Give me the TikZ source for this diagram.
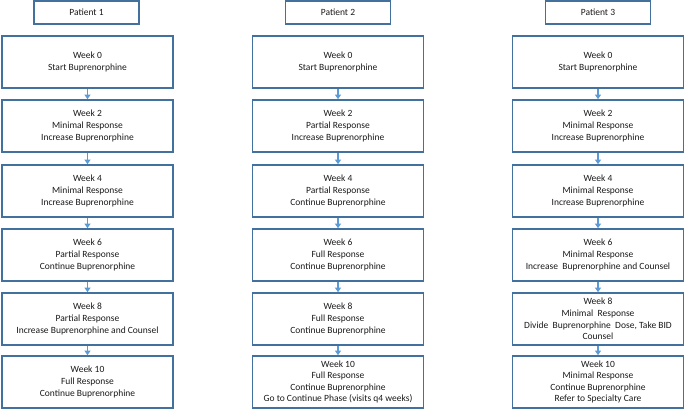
\documentclass[tikz,border=0pt]{standalone}
\usepackage{fontspec}
\setmainfont{Carlito}
\usetikzlibrary{arrows.meta}
\definecolor{boxblue}{RGB}{65,113,156}
\definecolor{arrowblue}{RGB}{91,155,213}
\tikzstyle{every node}=[draw=boxblue, line width=1.7pt, align=center, inner sep=0pt,
  text=black!90, font=\fontsize{9.5}{11.6}\selectfont]
\tikzstyle{patient}=[minimum width=105pt, minimum height=23pt]
\tikzstyle{week}=[minimum width=171pt, minimum height=52pt]
\tikzstyle{next}=[draw=arrowblue, line width=1.6pt, -{Triangle[width=6pt,length=4.5pt]}]

\begin{document}
\begin{tikzpicture}[x=1pt, y=-1pt]
\useasboundingbox (0,0) rectangle (685,409);
% Headers
    \node[patient] (p1) at (86.5,12.5) {Patient 1};
    \node[patient] (p2) at (338,12.5) {Patient 2};
    \node[patient] (p3) at (598,12.5) {Patient 3};
% Patient 1
    \node[week] (a0) at (87.5,62) {Week 0\\Start Buprenorphine};
    \node[week] (a2) at (87.5,126) {Week 2\\Minimal Response\\Increase Buprenorphine};
    \node[week] (a4) at (87.5,191) {Week 4\\Minimal Response\\Increase Buprenorphine};
    \node[week] (a6) at (87.5,255) {Week 6\\Partial Response\\Continue Buprenorphine};
    \node[week] (a8) at (87.5,319) {Week 8\\Partial Response\\Increase Buprenorphine and Counsel};
    \node[week] (a10) at (87.5,382) {Week 10\\Full Response\\Continue Buprenorphine};
% Patient 2
    \node[week] (b0) at (338,62) {Week 0\\Start Buprenorphine};
    \node[week] (b2) at (338,126) {Week 2\\Partial Response\\Increase Buprenorphine};
    \node[week] (b4) at (338,191) {Week 4\\Partial Response\\Continue Buprenorphine};
    \node[week] (b6) at (338,255) {Week 6\\Full Response\\Continue Buprenorphine};
    \node[week] (b8) at (338,319) {Week 8\\Full Response\\Continue Buprenorphine};
    \node[week] (b10) at (338,382) {Week 10\\Full Response\\Continue Buprenorphine\\Go to Continue Phase (visits q4 weeks)};
% Patient 3
    \node[week] (c0) at (598,62) {Week 0\\Start Buprenorphine};
    \node[week] (c2) at (598,126) {Week 2\\Minimal Response\\Increase Buprenorphine};
    \node[week] (c4) at (598,191) {Week 4\\Minimal Response\\Increase Buprenorphine};
    \node[week] (c6) at (598,255) {Week 6\\Minimal Response\\Increase~ Buprenorphine and Counsel};
    \node[week] (c8) at (598,319) {Week 8\\Minimal~ Response\\Divide~ Buprenorphine~ Dose, Take BID\\Counsel};
    \node[week] (c10) at (598,382) {Week 10\\Minimal Response\\Continue Buprenorphine\\Refer to Specialty Care};
% Arrows
    \draw[next] (a0) -- (a2);
    \draw[next] (a2) -- (a4);
    \draw[next] (a4) -- (a6);
    \draw[next] (a6) -- (a8);
    \draw[next] (a8) -- (a10);
    \draw[next] (b0) -- (b2);
    \draw[next] (b2) -- (b4);
    \draw[next] (b4) -- (b6);
    \draw[next] (b6) -- (b8);
    \draw[next] (b8) -- (b10);
    \draw[next] (c0) -- (c2);
    \draw[next] (c2) -- (c4);
    \draw[next] (c4) -- (c6);
    \draw[next] (c6) -- (c8);
    \draw[next] (c8) -- (c10);
\end{tikzpicture}
\end{document}
